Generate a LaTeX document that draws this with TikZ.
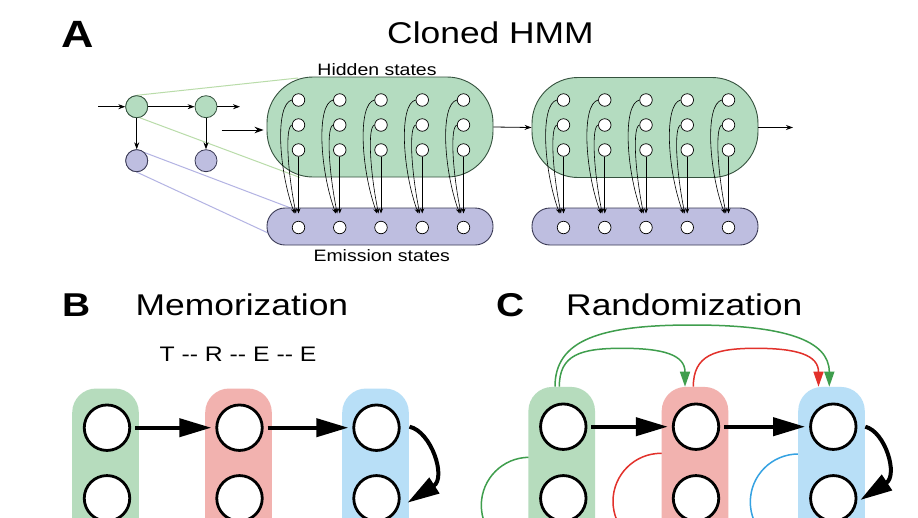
\documentclass[tikz,border=0pt]{standalone}
\usepackage{fontspec}
\setmainfont{Liberation Sans}[FakeStretch=1.18]
\usetikzlibrary{arrows.meta,calc}
\definecolor{hfill}{HTML}{B4DCC0}
\definecolor{hdraw}{HTML}{35523E}
\definecolor{efill}{HTML}{BEBEE0}
\definecolor{edraw}{HTML}{3A3A55}
\definecolor{lgreen}{HTML}{B9DCA9}
\definecolor{lpurple}{HTML}{B3B3E3}
\definecolor{cgreen}{HTML}{B6DCBD}
\definecolor{cred}{HTML}{F2B2AF}
\definecolor{cblue}{HTML}{B8DFF7}
\definecolor{agreen}{HTML}{3F9E4D}
\definecolor{ared}{HTML}{E2312B}
\definecolor{ablue}{HTML}{35A2E2}
\tikzset{
 panellbl/.style={font=\bfseries\fontsize{#1}{#1}\selectfont, anchor=base west, inner sep=0},
 ttl/.style={font=\fontsize{30}{30}\selectfont, inner sep=0},
 lbl/.style={font=\fontsize{16.5}{16.5}\selectfont, anchor=base, inner sep=0},
 hblob/.style={draw=hdraw, fill=hfill, line width=0.9pt, rounded corners=46pt, minimum width=226pt, minimum height=100pt, inner sep=0},
 eblob/.style={draw=edraw, fill=efill, line width=0.9pt, rounded corners=18pt, minimum width=226pt, minimum height=37pt, inner sep=0},
 hst/.style={circle, draw=black, fill=white, line width=0.7pt, minimum size=12.5pt, inner sep=0},
 gsm/.style={circle, draw=hdraw, fill=hfill, line width=0.8pt, minimum size=22pt, inner sep=0},
 psm/.style={circle, draw=edraw, fill=efill, line width=0.8pt, minimum size=22pt, inner sep=0},
 sarr/.style={-{Stealth[length=5pt,width=4pt]}, line width=0.6pt},
 carr/.style={-{Stealth[length=7pt,width=5pt]}, line width=0.8pt},
 colbox/.style={inner sep=0, rounded corners=24pt, minimum width=66.6pt, minimum height=220pt, anchor=north},
 bcirc/.style={circle, draw=black, fill=white, line width=2.8pt, minimum size=45.5pt, inner sep=0},
 tarr/.style={-{Triangle[length=32pt,width=18pt]}, line width=4pt},
 thinarr/.style={line width=1.5pt, -{Triangle[length=15pt,width=10pt]}},
 botarc/.style={line width=1.5pt},
}
\begin{document}
\begin{tikzpicture}[x=1pt,y=-1pt]
\clip (0,0) rectangle (918,517);
\fill[white] (0,0) rectangle (918,517);

% ---------------- Panel A ----------------
\node[panellbl=38] (labA) at (61,47.3) {A};
\node[ttl, anchor=base] (titA) at (490.5,43.3) {Cloned HMM};

\node[gsm] (g1) at (136.7,106.7) {};
\node[gsm] (g2) at (206,106.7) {};
\node[psm] (p1) at (136.7,160.7) {};
\node[psm] (p2) at (206,160.7) {};

% projection lines (behind blobs)
\coordinate (lg1) at (298,78);
\coordinate (lg2) at (300,177.5);
\coordinate (lp1) at (296,210);
\coordinate (lp2) at (281,239);
\draw[lgreen, line width=1pt] (g1.north) -- (lg1);
\draw[lgreen, line width=1pt] (g1.-75) -- (lg2);
\draw[lpurple, line width=1pt] (p1.45) -- (lp1);
\draw[lpurple, line width=1pt] (p1.-90) -- (lp2);
\node[gsm] at (g1) {};
\node[psm] at (p1) {};

\node[hblob] (H1) at (380,127) {};
\node[eblob] (E1) at (380,226.5) {};
\node[hblob] (H2) at (645,127.5) {};
\node[eblob] (E2) at (645,226.5) {};

\node[lbl] (hid) at (377,75) {Hidden states};
\node[lbl] (emi) at (381.7,261.7) {Emission states};

\coordinate (in0) at (98,106.7);
\coordinate (out0) at (240,106.7);
\draw[carr] (in0) -- (g1);
\draw[carr] (g1) -- (g2);
\draw[carr] (g2) -- (out0);
\draw[carr] (g1) -- (p1);
\draw[carr] (g2) -- (p2);
\coordinate (bi) at (221.7,130);
\draw[-{Stealth[length=9pt,width=6.5pt]}, line width=0.9pt] (bi) -- ($(bi -| H1.west)+(-3,0)$);
\draw[carr] (H1.east) -- (H2.west);
\coordinate (out2) at (793,127.5);
\draw[carr] (H2.east) -- (out2);

\foreach \b/\xo in {1/298.5, 2/563.5} {
 \foreach \i in {0,...,4} {
  \pgfmathsetmacro\cx{\xo+41.25*\i}
  \node[hst] (h\b-\i-1) at (\cx,100) {};
  \node[hst] (h\b-\i-2) at (\cx,125) {};
  \node[hst] (h\b-\i-3) at (\cx,150) {};
  \node[hst] (e\b-\i) at (\cx,227.5) {};
  \draw[sarr] (h\b-\i-1.west) .. controls +(-17,4) and +(-16,-44) .. ($(e\b-\i.north)+(-4,-7.5)$);
  \draw[sarr] (h\b-\i-2.west) .. controls +(-7,2) and +(-8.5,-42) .. ($(e\b-\i.north)+(-2.5,-7.5)$);
  \draw[sarr] (h\b-\i-3.south) -- ($(e\b-\i.north)+(0,-7.5)$);
 }
}

% ---------------- Panel B ----------------
\node[panellbl=33] (labB) at (62,316.7) {B};
\node[ttl, anchor=base west] (titB) at (135.5,315) {Memorization};
\node[font=\fontsize{21}{21}\selectfont, anchor=base, inner sep=0] (seq) at (238,361) {T -{}- R -{}- E -{}- E};

\node[colbox, fill=cgreen] (Bg) at (105.5,388.3) {};
\node[colbox, fill=cred] (Br) at (238.5,388.3) {};
\node[colbox, fill=cblue] (Bb) at (375.5,388.3) {};
\node[bcirc] (Bg1) at (107,427.7) {};
\node[bcirc] (Bg2) at (107,498.3) {};
\node[bcirc] (Br1) at (239.5,427.7) {};
\node[bcirc] (Br2) at (239.5,498.3) {};
\node[bcirc] (Bb1) at (376.5,427.7) {};
\node[bcirc] (Bb2) at (376.5,498.3) {};
\draw[tarr] ($(Bg1.east)+(4,0)$) -- ($(Br1.west)+(-4,0)$);
\draw[tarr] ($(Br1.east)+(4,0)$) -- ($(Bb1.west)+(-4,0)$);
\draw[tarr] ($(Bb1.center)+(33,-1)$) .. controls +(22,5) and +(39,-25) .. ($(Bb2.center)+(31,4.4)$);

% ---------------- Panel C ----------------
\node[panellbl=33] (labC) at (496,316) {C};
\node[ttl, anchor=base west] (titC) at (566,315) {Randomization};

\coordinate (gT) at (529.3,457.3);
\coordinate (rT) at (661,453.3);
\coordinate (bT) at (798.3,454);
\draw[botarc, agreen] ($(gT)+(20,0)$) -- (gT) .. controls +(-26.5,0) and +(0,-26.5) .. ++(-48,48) .. controls +(0,26.5) and +(-26.5,0) .. ++(48,48);
\draw[botarc, ared] ($(rT)+(20,0)$) -- (rT) .. controls +(-26.5,0) and +(0,-26.5) .. ++(-48,48) .. controls +(0,26.5) and +(-26.5,0) .. ++(48,48);
\draw[botarc, ablue] ($(bT)+(20,0)$) -- (bT) .. controls +(-26.5,0) and +(0,-26.5) .. ++(-48,48) .. controls +(0,26.5) and +(-26.5,0) .. ++(48,48);

\node[colbox, fill=cgreen] (Cg) at (561.7,386.7) {};
\node[colbox, fill=cred] (Cr) at (695,386.7) {};
\node[colbox, fill=cblue] (Cb) at (831.5,386.7) {};
\node[bcirc] (Cg1) at (563.3,426.7) {};
\node[bcirc] (Cg2) at (563.3,498.3) {};
\node[bcirc] (Cr1) at (696,426.7) {};
\node[bcirc] (Cr2) at (696,498.3) {};
\node[bcirc] (Cb1) at (833.3,426.7) {};
\node[bcirc] (Cb2) at (833.3,498.3) {};
\draw[tarr] ($(Cg1.east)+(4,0)$) -- ($(Cr1.west)+(-4,0)$);
\draw[tarr] ($(Cr1.east)+(4,0)$) -- ($(Cb1.west)+(-4,0)$);
\draw[tarr] ($(Cb1.center)+(32,0)$) .. controls +(20,5) and +(38,-25) .. ($(Cb2.center)+(27,1.7)$);

% top arcs
\draw[thinarr, agreen] ($(Cg.north)+(-6.7,0)$) .. controls +(0,-46.7) and +(-92,0) .. (692,325) .. controls +(92,0) and +(0,-46.7) .. ($(Cb.north)+(-2.2,0)$);
\draw[thinarr, agreen] ($(Cg.north)+(-2.4,0)$) .. controls +(0,-31.7) and +(-42,0) .. (622,348.3) .. controls +(42,0) and +(0,-31.7) .. ($(Cr.north)+(-10,0)$);
\draw[thinarr, ared] ($(Cr.north)+(-1.7,0)$) .. controls +(0,-31.7) and +(-41,0) .. (756,348.3) .. controls +(41,0) and +(0,-31.7) .. ($(Cb.north)+(-13,0)$);
\end{tikzpicture}
\end{document}
